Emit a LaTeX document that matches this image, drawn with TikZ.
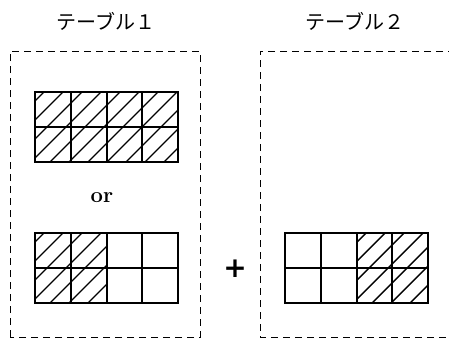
\documentclass[tikz,border=0pt]{standalone}
\usepackage{fontspec}
\newfontfamily\jafont{Noto Sans CJK JP}
\newfontfamily\plusfont{DejaVu Sans}
\usepackage{tikz}
\usetikzlibrary{positioning,calc}
\tikzset{
  frame/.style={draw=black, line width=0.9pt, dash pattern=on 7pt off 5pt},
  cellgrid/.style={draw=black, line width=1.1pt},
  hatchln/.style={draw=black, line width=1.4pt},
  ttl/.style={font=\jafont\fontsize{20}{22}\selectfont, inner sep=0pt},
  op/.style={font=\bfseries\fontsize{22}{24}\selectfont, inner sep=0pt},
}
% hatch a rectangle: #1 lower left, #2 upper right
\newcommand\hatchbox[2]{%
  \begin{scope}
    \clip #1 rectangle #2;
    \foreach \c in {-80,-61,...,160}
      \draw[hatchln] ($#1+(\c,0)$) -- ++(90,90);
  \end{scope}}
\begin{document}
\begin{tikzpicture}[x=1pt, y=1pt]
  \useasboundingbox (0,0) rectangle (449,341);
  % titles
  \node[ttl] (t1) at (106,320) {テーブル１};
  \node[ttl] (t2) at (355,320) {テーブル２};
  % dashed frames
  \draw[frame] (10,4) rectangle (200,290);
  \draw[frame] (455,290) -- (260,290) -- (260,4) -- (455,4);
  % table 1, upper: all hatched
  \hatchbox{(35,179)}{(178,249)}
  \draw[cellgrid] (35,179) rectangle (178,249);
  \foreach \x in {71,107,142} \draw[cellgrid] (\x,179) -- ++(0,70);
  \draw[cellgrid] (35,214) -- (178,214);
  \node[op] (or) at (102,143) {or};
  % table 1, lower: left half hatched
  \hatchbox{(35,38)}{(107,108)}
  \draw[cellgrid] (35,38) rectangle (178,108);
  \foreach \x in {71,107,142} \draw[cellgrid] (\x,38) -- ++(0,70);
  \draw[cellgrid] (35,73) -- (178,73);
  \node[op, font=\plusfont\bfseries\fontsize{28}{30}\selectfont] (plus) at (235,72) {+};
  % table 2: right half hatched
  \hatchbox{(357,38)}{(428,108)}
  \draw[cellgrid] (285,38) rectangle (428,108);
  \foreach \x in {321,357,392} \draw[cellgrid] (\x,38) -- ++(0,70);
  \draw[cellgrid] (285,73) -- (428,73);
\end{tikzpicture}
\end{document}
